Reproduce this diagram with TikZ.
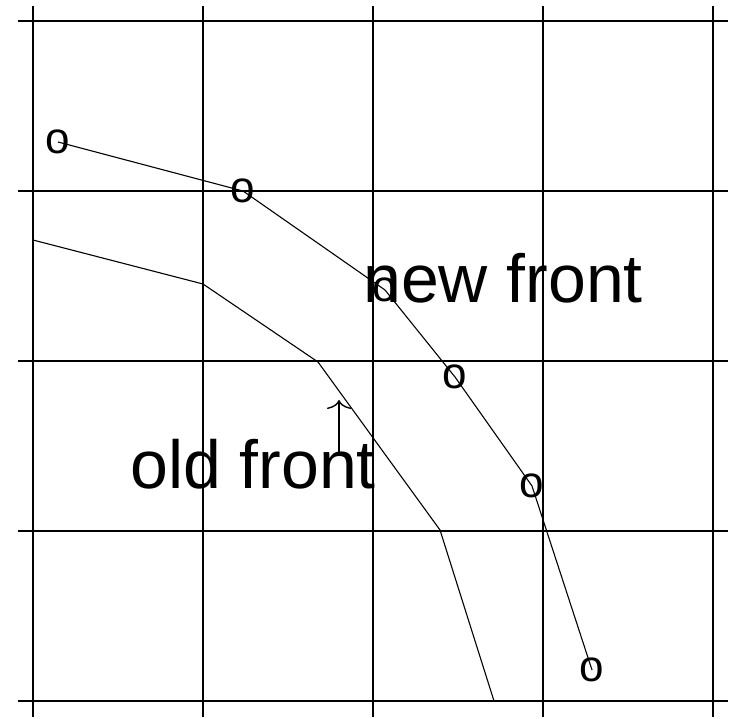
\documentclass[tikz,border=0pt]{standalone}
\usepackage{fontspec}
\setmainfont{Liberation Sans}
\usetikzlibrary{arrows.meta}
\begin{document}
\begin{tikzpicture}[x=1pt,y=-1pt,
  gridline/.style={line width=1.2pt,black},
  front/.style={line width=1.1pt,black},
  ptmark/.style={inner sep=0pt,font=\fontsize{44}{44}\selectfont},
  biglabel/.style={inner sep=0pt,anchor=base west,font=\fontsize{68}{68}\selectfont}]
\useasboundingbox (0,0) rectangle (730,719);
% grid
\foreach \x in {33,203,373,543,713} \draw[gridline] (\x,6) -- (\x,717);
\foreach \y in {21,191,361,531,701} \draw[gridline] (18,\y) -- (728,\y);
% old front
\coordinate (o1) at (33,240);
\coordinate (o2) at (203,284);
\coordinate (o3) at (318,362);
\coordinate (o4) at (440,530);
\coordinate (o5) at (494,701);
\draw[front] (o1) -- (o2) -- (o3) -- (o4) -- (o5);
% new front
\node[ptmark] (n1) at (58,142) {o};
\node[ptmark] (n2) at (243,191) {o};
\node[ptmark] (n3) at (385,290) {o};
\node[ptmark] (n4) at (455,377) {o};
\node[ptmark] (n5) at (532,486) {o};
\node[ptmark] (n6) at (592,670) {o};
\draw[front] (n1.center) -- (n2.center) -- (n3.center) -- (n4.center) -- (n5.center) -- (n6.center);
% labels
\node[biglabel] (newl) at (363,302) {new front};
\node[biglabel] (oldl) at (130,488) {old front};
% arrow
\coordinate (abot) at (339,454);
\coordinate (atop) at (339,400);
\draw[line width=1.4pt,-{Computer Modern Rightarrow[length=9pt,width=24pt]}] (abot) -- (atop);
\end{tikzpicture}
\end{document}
